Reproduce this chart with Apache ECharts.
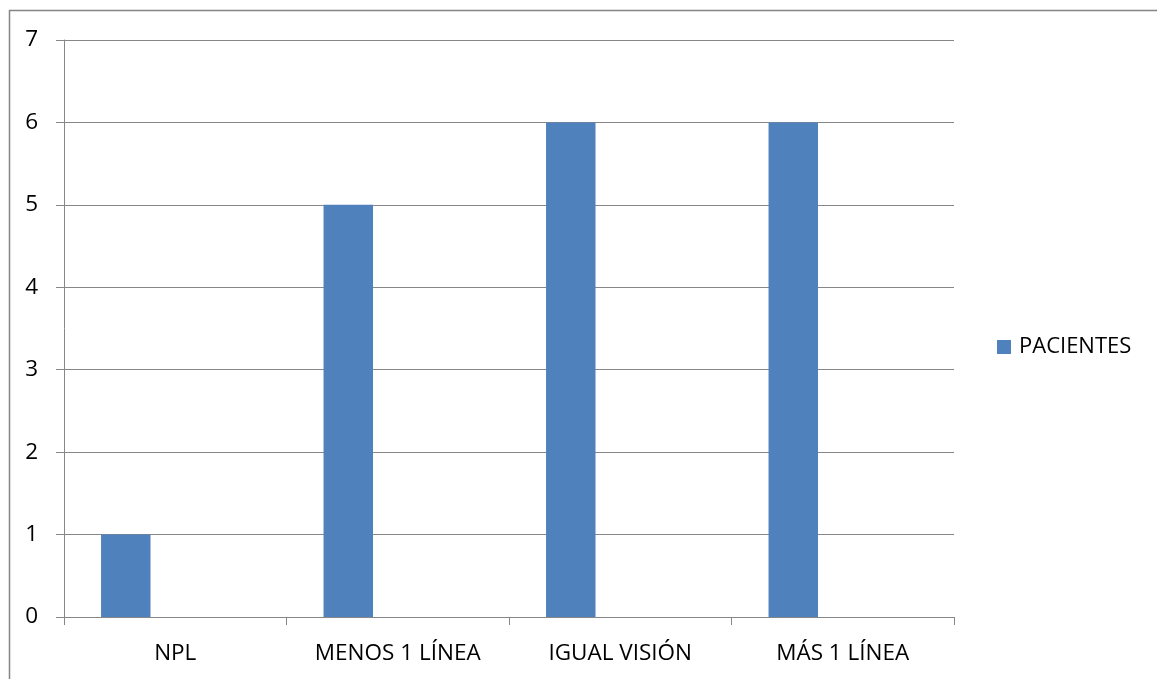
<!DOCTYPE html>
<html>
<head>
<meta charset="utf-8">
<script src="https://cdn.jsdelivr.net/npm/echarts@6/dist/echarts.min.js"></script>
<style>
  html, body { margin: 0; padding: 0; background: #fff; }
  #chart { width: 1157px; height: 679px; }
</style>
</head>
<body>
<div id="chart"></div>
<script>
// Categories and patient counts
var categories = ['NPL', 'MENOS 1 LÍNEA', 'IGUAL VISIÓN', 'MÁS 1 LÍNEA'];
var pacientes = [1, 5, 6, 6];
var yTicks = [0, 1, 2, 3, 4, 5, 6, 7];

var FONT = '"Open Sans", "Noto Sans", sans-serif';
var GRID_COLOR = '#878787';

var chart = echarts.init(document.getElementById('chart'));
chart.setOption({
  animation: false,
  backgroundColor: '#ffffff',
  graphic: [{
    type: 'rect',
    shape: { x: 9.5, y: 10.5, width: 1200, height: 700 },
    style: { fill: 'none', stroke: '#858585', lineWidth: 1.5 },
    silent: true
  }],
  grid: { left: 64, right: 203, top: 40, bottom: 62, containLabel: false },
  legend: {
    data: ['PACIENTES'],
    orient: 'vertical',
    left: 992,
    top: 331,
    itemWidth: 14,
    itemHeight: 14,
    icon: 'rect',
    textStyle: { fontFamily: FONT, fontSize: 22, color: '#000', padding: [0, 0, 0, 3] }
  },
  xAxis: {
    type: 'category',
    data: categories,
    axisLine: { show: true, lineStyle: { color: GRID_COLOR, width: 1 } },
    axisTick: { show: true, length: 8, alignWithLabel: false, lineStyle: { color: GRID_COLOR } },
    axisLabel: { fontFamily: FONT, fontSize: 22.5, color: '#000', margin: 25, interval: 0 },
    splitLine: { show: false }
  },
  yAxis: {
    type: 'value',
    min: yTicks[0],
    max: yTicks[yTicks.length - 1],
    interval: 1,
    axisLine: { show: true, lineStyle: { color: GRID_COLOR, width: 1 } },
    axisTick: { show: true, length: 8, lineStyle: { color: GRID_COLOR } },
    axisLabel: { fontFamily: FONT, fontSize: 22.5, color: '#000', margin: 26 },
    splitLine: { show: true, lineStyle: { color: GRID_COLOR, width: 1 } }
  },
  series: [
    {
      name: 'PACIENTES',
      type: 'bar',
      data: pacientes,
      barGap: '0%',
      barCategoryGap: '33.3%',
      itemStyle: { color: '#4F81BD' }
    },
    { name: 'Serie 2', type: 'bar', data: [], barGap: '0%', barCategoryGap: '33.3%' },
    { name: 'Serie 3', type: 'bar', data: [], barGap: '0%', barCategoryGap: '33.3%' }
  ]
});
</script>
</body>
</html>
